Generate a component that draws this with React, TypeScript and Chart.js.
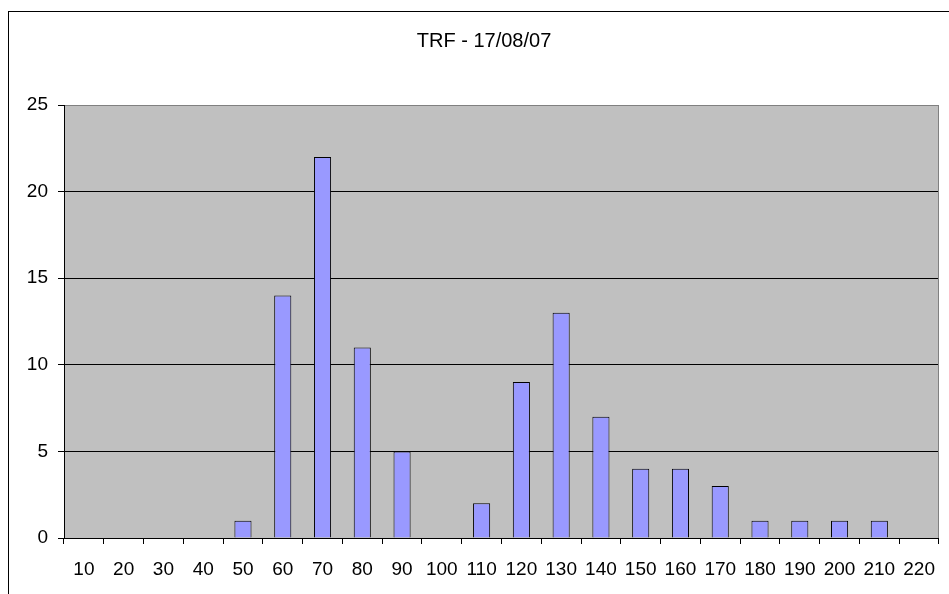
import React, { useEffect, useRef } from 'react';
import { Chart, registerables } from 'chart.js';

Chart.register(...registerables);

const chartTitle = 'TRF - 17/08/07';
const categories = ['10', '20', '30', '40', '50', '60', '70', '80', '90', '100', '110', '120', '130', '140', '150', '160', '170', '180', '190', '200', '210', '220'];
const counts = [0, 0, 0, 0, 1, 14, 22, 11, 5, 0, 2, 9, 13, 7, 4, 4, 3, 1, 1, 1, 1, 0];
const yMin = 0;
const yMax = 25;
const yStep = 5;

const FONT = '"Liberation Sans", Arial, sans-serif';

const framePlugin = {
  id: 'frame',
  beforeDraw(chart: any) {
    const { ctx, chartArea: a } = chart;
    ctx.save();
    ctx.fillStyle = '#ffffff';
    ctx.fillRect(0, 0, chart.width, chart.height);
    ctx.fillStyle = '#C0C0C0';
    ctx.fillRect(a.left, a.top, a.right - a.left, a.bottom - a.top);
    ctx.strokeStyle = '#000000';
    ctx.lineWidth = 1;
    ctx.strokeRect(8.5, 11.5, 952, 700);
    ctx.restore();
  },
  beforeDatasetsDraw(chart: any) {
    const { ctx, chartArea: a } = chart;
    ctx.save();
    ctx.strokeStyle = '#808080';
    ctx.lineWidth = 1;
    ctx.beginPath();
    const x = Math.round(a.right) - 0.5;
    ctx.moveTo(x, a.top);
    ctx.lineTo(x, a.bottom);
    ctx.stroke();
    ctx.restore();
  },
};

export default function App() {
  const canvasRef = useRef<HTMLCanvasElement | null>(null);

  useEffect(() => {
    if (!canvasRef.current) return;
    Chart.defaults.color = '#000000';
    Chart.defaults.font.family = FONT;
    const chart = new Chart(canvasRef.current, {
      type: 'bar',
      data: {
        labels: categories,
        datasets: [
          {
            data: counts,
            backgroundColor: '#9999FF',
            borderColor: '#000000',
            borderWidth: 1,
            barPercentage: 0.43,
            categoryPercentage: 1,
          },
        ],
      },
      plugins: [framePlugin],
      options: {
        animation: false,
        responsive: false,
        maintainAspectRatio: false,
        layout: { padding: { left: 21, right: 2, top: 0, bottom: 0 } },
        plugins: {
          legend: { display: false },
          tooltip: { enabled: false },
          title: {
            display: true,
            text: chartTitle,
            color: '#000000',
            font: { family: FONT, size: 20, weight: 'normal', lineHeight: 1.2 },
            padding: { top: 29, bottom: 52 },
          },
        },
        scales: {
          x: {
            offset: true,
            grid: {
              display: true,
              offset: true,
              drawOnChartArea: false,
              drawTicks: true,
              tickLength: 6,
              color: '#000000',
              tickColor: '#000000',
            },
            border: { display: true, color: '#000000', width: 1 },
            ticks: {
              color: '#000000',
              font: { family: FONT, size: 19 },
              padding: 14,
              maxRotation: 0,
              autoSkip: false,
            },
            afterFit: (scale: any) => {
              scale.height = 56;
            },
          },
          y: {
            min: yMin,
            max: yMax,
            ticks: {
              stepSize: yStep,
              color: '#000000',
              font: { family: FONT, size: 19 },
              padding: 10,
            },
            grid: {
              display: true,
              drawTicks: true,
              tickLength: 6,
              color: (ctx: any) => (ctx.tick && ctx.tick.value === yMax ? '#808080' : '#000000'),
              tickColor: '#000000',
              lineWidth: 1,
            },
            border: { display: true, color: '#000000', width: 1 },
            afterFit: (scale: any) => {
              scale.width = 43;
            },
          },
        },
      },
    } as any);
    return () => chart.destroy();
  }, []);

  return (
    <div style={{ position: 'absolute', left: 0, top: 0, width: 949, height: 594, overflow: 'hidden', background: '#fff' }}>
      <canvas ref={canvasRef} width={949} height={594} style={{ display: 'block', width: 949, height: 594 }} />
    </div>
  );
}
